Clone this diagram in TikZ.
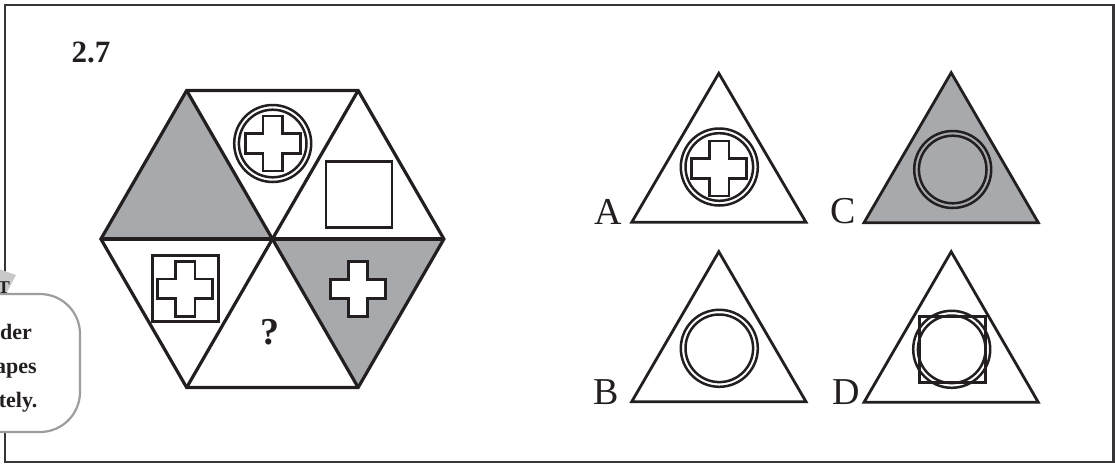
\documentclass[tikz,border=0pt]{standalone}
\usepackage{fontspec}
\setmainfont{Liberation Serif}
\definecolor{ink}{HTML}{231F20}
\definecolor{sectorgray}{HTML}{A7A9AC}
\definecolor{bubblegray}{HTML}{9D9D9D}
\definecolor{stargray}{HTML}{C9C9C9}
\tikzset{
  hexline/.style={draw=ink, line width=3.2pt, line join=miter},
  shapeline/.style={draw=ink, line width=2.8pt, line join=miter},
  ringline/.style={draw=ink, line width=2.5pt},
  answerlabel/.style={font=\fontsize{38}{40}\selectfont, text=ink, inner sep=0pt, anchor=base east},
  bubbletext/.style={font=\fontsize{22}{24}\selectfont\bfseries, text=ink, inner sep=0pt, anchor=base east},
  crossshape/.pic={
    \draw[shapeline, fill=white] (-9.7,-27.5) -- (9.7,-27.5) -- (9.7,-9.7) -- (27.5,-9.7) -- (27.5,9.7) -- (9.7,9.7) -- (9.7,27.5) -- (-9.7,27.5) -- (-9.7,9.7) -- (-27.5,9.7) -- (-27.5,-9.7) -- (-9.7,-9.7) -- cycle;
  },
  doublering/.pic={
    \draw[ringline] (0,0) circle[radius=38.5pt];
    \draw[ringline] (0,0) circle[radius=33.8pt];
  },
  squareshape/.pic={
    \draw[shapeline] (-33,-33) rectangle (33,33);
  }
}
\begin{document}
\begin{tikzpicture}[x=1pt, y=-1pt]
\useasboundingbox (0,0) rectangle (1115,463);
% frame
\draw[draw=ink!90, line width=2.4pt] (5,5) rectangle (1113.3,461.7);
% title
\node[font=\fontsize{31}{33}\selectfont\bfseries, text=ink, inner sep=0pt, anchor=base west] (title) at (71.5,62.5) {2.7};

% hexagon vertices
\coordinate (O) at (272.4,239);
\coordinate (TL) at (186.65,90.5);
\coordinate (TR) at (358.15,90.5);
\coordinate (R) at (443.9,239);
\coordinate (BR) at (358.15,387.5);
\coordinate (BL) at (186.65,387.5);
\coordinate (L) at (100.9,239);
% shaded sectors
\fill[sectorgray] (L) -- (TL) -- (O) -- cycle;
\fill[sectorgray] (O) -- (R) -- (BR) -- cycle;
% outline and spokes
\draw[hexline] (TL) -- (TR) -- (R) -- (BR) -- (BL) -- (L) -- cycle;
\draw[hexline] (L) -- (R);
\draw[hexline] (TL) -- (BR);
\draw[hexline] (TR) -- (BL);
% contents of sectors
\pic at (272.7,143.5) {doublering};
\pic at (272.7,143.5) {crossshape};
\pic at (359,194.5) {squareshape};
\pic at (185.3,288.2) {squareshape};
\pic at (185.3,288.7) {crossshape};
\pic at (358,289) {crossshape};
\node[font=\fontsize{38}{40}\selectfont\bfseries, text=ink, inner sep=0pt] (qmark) at (269.5,332) {?};

% answer A
\coordinate (Aa) at (718.8,73.3);
\coordinate (Ab) at (631.7,222.3);
\coordinate (Ac) at (806,222.3);
\draw[shapeline] (Aa) -- (Ab) -- (Ac) -- cycle;
\pic at (719.3,167) {doublering};
\pic at (719.3,168.5) {crossshape};
\node[answerlabel] (labA) at (621.7,224) {A};

% answer C
\coordinate (Ca) at (951.2,72.7);
\coordinate (Cb) at (864,222.7);
\coordinate (Cc) at (1038.3,222.7);
\draw[shapeline, fill=sectorgray] (Ca) -- (Cb) -- (Cc) -- cycle;
\pic at (952.7,169.5) {doublering};
\node[answerlabel] (labC) at (856.5,223.5) {C};

% answer B
\coordinate (Ba) at (718.8,251.7);
\coordinate (Bb) at (631.7,401.7);
\coordinate (Bc) at (806,401.7);
\draw[shapeline] (Ba) -- (Bb) -- (Bc) -- cycle;
\pic at (719.3,348.3) {doublering};
\node[answerlabel] (labB) at (619,404.5) {B};

% answer D
\coordinate (Da) at (951.2,251.7);
\coordinate (Db) at (864,402.3);
\coordinate (Dc) at (1038.3,402.3);
\draw[shapeline] (Da) -- (Db) -- (Dc) -- cycle;
\pic at (952.3,349.7) {squareshape};
\pic at (951.7,349.3) {doublering};
\node[answerlabel] (labD) at (860,404.5) {D};

% cropped tip bubble at the left edge
\fill[stargray] (-4,268) -- (16,275) -- (7,292) -- (11,313) -- (-4,304) -- cycle;
\draw[draw=bubblegray, line width=2.2pt, fill=white, rounded corners=40pt] (-60,294) rectangle (80,432);
\node[font=\fontsize{18}{20}\selectfont\bfseries, text=ink, inner sep=0pt, anchor=base east] (tipT) at (10,293) {T};
\node[bubbletext] (l1) at (32,339) {der};
\node[bubbletext] (l2) at (37,373) {apes};
\node[bubbletext] (l3) at (37.5,407) {tely.};
\end{tikzpicture}
\end{document}
